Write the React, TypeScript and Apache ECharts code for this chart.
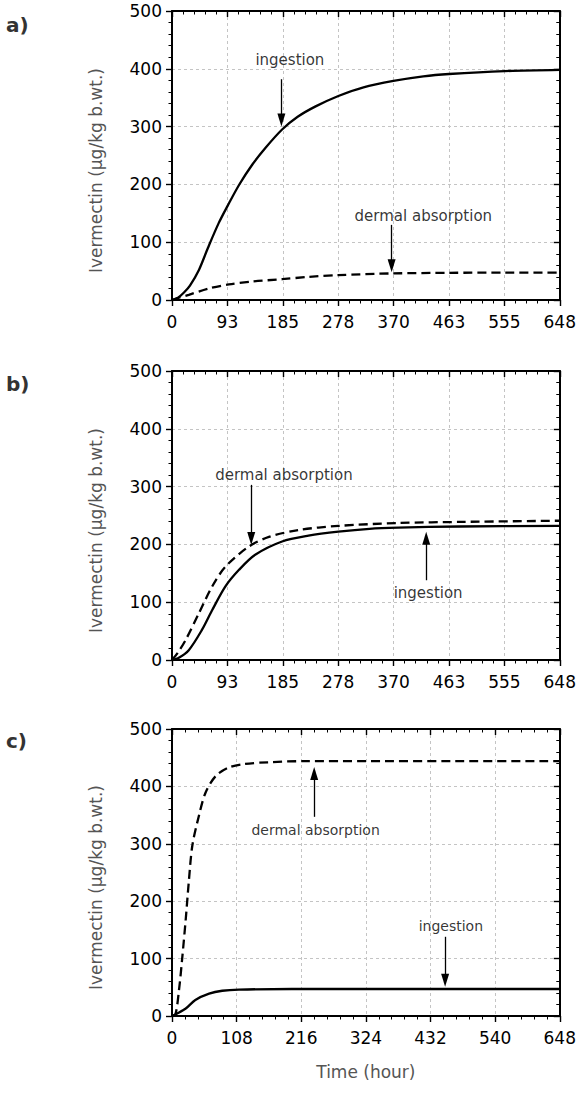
import React, { useEffect, useRef } from "react";
import * as echarts from "echarts";

// ---------- data ----------
// Panel a
const aIngT = [0, 10, 20, 30, 45, 60, 78, 95, 112, 134, 156, 184, 210, 240, 278, 320, 370, 420, 463, 556, 648];
const aIngV = [0, 4, 13, 25, 52, 90, 133, 167, 199, 234, 263, 295, 317, 335, 353, 368, 379, 387, 391, 396, 398];
const aDerT = [0, 10, 28, 62, 95, 134, 184, 228, 278, 367, 463, 556, 648];
const aDerV = [0, 3.5, 9, 20, 27, 32, 36, 40, 43, 46, 47, 47.5, 47.5];
// Panel b
const bIngT = [0, 10, 28, 50, 67, 89, 112, 139, 184, 228, 278, 330, 378, 480, 648];
const bIngV = [0, 3, 17, 52, 86, 127, 156, 182, 205, 215, 222, 227, 229, 231, 232];
const bDerT = [0, 10, 23, 45, 67, 89, 128, 162, 212, 278, 378, 489, 648];
const bDerV = [0, 13, 35, 81, 127, 161, 196, 213, 225, 232, 237, 239, 241];
// Panel c
const cIngT = [0, 8, 23, 39, 62, 84, 112, 200, 648];
const cIngV = [0, 4, 13, 28, 39, 44, 46, 47, 47];
const cDerT = [0, 6, 12, 17, 23, 28, 34, 45, 56, 73, 95, 120, 160, 220, 648];
const cDerV = [0, 4, 48, 100, 169, 233, 297, 349, 389, 418, 433, 439, 442, 444, 444];

// axes
const timeMax = 648;
const timeIntervals = [648 / 7, 648 / 7, 108];
const yMin = 0;
const yMax = 500;
const yInterval = 100;
const panelLabels = ["a)", "b)", "c)"];
const yName = "Ivermectin (µg/kg b.wt.)";
const xName = "Time (hour)";

// annotations: [time, value, text]
const aTexts: [number, number, string][] = [[197, 415, "ingestion"], [420, 145, "dermal absorption"]];
const bTexts: [number, number, string][] = [[187, 320, "dermal absorption"], [428, 116, "ingestion"]];
const cTexts: [number, number, string][] = [[240, 324, "dermal absorption"], [466, 156, "ingestion"]];
// arrows: [time, tail value, tip value]
const aArrows: [number, number, number][] = [[182.8, 382, 300], [367, 130, 48]];
const bArrows: [number, number, number][] = [[132.4, 303, 199], [424.8, 138, 222]];
const cArrows: [number, number, number][] = [[237.6, 347, 434], [456.4, 138, 51]];

const zip = (t: number[], v: number[]) => t.map((x, i) => [x, v[i]]);

export default function App() {
  const ref = useRef<HTMLDivElement>(null);
  useEffect(() => {
    document.body.style.margin = "0";
    if (!ref.current) return;
    const chart = echarts.init(ref.current, undefined, { renderer: "svg" });

    const grids = [
      { left: 172, width: 390, top: 11, height: 289 },
      { left: 172, width: 390, top: 371, height: 289 },
      { left: 172, width: 390, top: 729, height: 287 },
    ];
    const font = "DejaVu Sans";
    const xAxes: any[] = [];
    const yAxes: any[] = [];
    grids.forEach((g, i) => {
      const common = {
        gridIndex: i,
        type: "value",
        axisLine: { show: true, onZero: false, lineStyle: { color: "#000", width: 2 } },
        axisTick: { show: true, length: 6, lineStyle: { color: "#000", width: 1.4 } },
        minorTick: { show: true, splitNumber: 5, length: 3.5, lineStyle: { color: "#000", width: 1 } },
        minorSplitLine: { show: false },
      };
      xAxes.push({
        ...common,
        min: 0,
        max: timeMax,
        interval: timeIntervals[i],
        position: "bottom",
        axisLabel: { color: "#000", fontSize: 17, fontFamily: font, margin: 13, formatter: (v: number) => String(Math.round(v)) },
        splitLine: { show: true, lineStyle: { color: "#c4c4c4", type: [3, 3], width: 1 } },
        name: i === 2 ? xName : "",
        nameLocation: "middle",
        nameGap: 47,
        nameTextStyle: { color: "#555", fontSize: 17, fontFamily: font },
      });
      xAxes.push({
        ...common,
        min: 0,
        max: timeMax,
        interval: timeIntervals[i],
        position: "top",
        axisTick: { ...common.axisTick, inside: true },
        axisLabel: { show: false },
        splitLine: { show: false },
      });
      yAxes.push({
        ...common,
        min: yMin,
        max: yMax,
        interval: yInterval,
        position: "left",
        axisLabel: { color: "#000", fontSize: 17, fontFamily: font, margin: 10 },
        splitLine: { show: true, lineStyle: { color: "#c4c4c4", type: [3, 3], width: 1 } },
        name: yName,
        nameLocation: "middle",
        nameGap: 68,
        nameTextStyle: { color: "#555", fontSize: 17, fontFamily: font, padding: [0, 30, 0, 0] },
      });
      yAxes.push({
        ...common,
        min: yMin,
        max: yMax,
        interval: yInterval,
        position: "right",
        axisTick: { ...common.axisTick, inside: true },
        axisLabel: { show: false },
        splitLine: { show: false },
      });
    });

    const panels = [
      { ing: zip(aIngT, aIngV), der: zip(aDerT, aDerV), texts: aTexts, arrows: aArrows },
      { ing: zip(bIngT, bIngV), der: zip(bDerT, bDerV), texts: bTexts, arrows: bArrows },
      { ing: zip(cIngT, cIngV), der: zip(cDerT, cDerV), texts: cTexts, arrows: cArrows },
    ];
    const series: any[] = [];
    panels.forEach((p, i) => {
      const xi = i * 2;
      const yi = i * 2;
      const pxPerUnit = grids[i].height / (yMax - yMin);
      const half = 6.5 / pxPerUnit;
      series.push({
        type: "line",
        xAxisIndex: xi,
        yAxisIndex: yi,
        data: p.ing,
        showSymbol: false,
        smooth: 0.3,
        lineStyle: { color: "#000", width: 2.3 },
        markLine: {
          silent: true,
          symbol: ["none", "triangle"],
          symbolSize: [8, 13],
          label: { show: false },
          lineStyle: { color: "#000", width: 1.3, type: "solid" },
          data: p.arrows.map(([t, v0, v1]) => {
            const dir = v1 < v0 ? 1 : -1;
            return [
              { coord: [t, v0], symbol: "none" },
              { coord: [t, v1 + dir * half], symbol: "triangle", symbolSize: [8, 13] },
            ];
          }),
        },
      });
      series.push({
        type: "line",
        xAxisIndex: xi,
        yAxisIndex: yi,
        data: p.der,
        showSymbol: false,
        smooth: 0.3,
        lineStyle: { color: "#000", width: 2.3, type: [9, 5] },
      });
      series.push({
        type: "scatter",
        xAxisIndex: xi,
        yAxisIndex: yi,
        silent: true,
        symbolSize: 0.1,
        itemStyle: { color: "rgba(0,0,0,0)" },
        label: {
          show: true,
          position: "inside",
          formatter: "{b}",
          color: "#000",
          fontSize: i === 2 ? 14 : 15,
          fontFamily: font,
        },
        data: p.texts.map(([t, v, s]) => ({ name: s, value: [t, v] })),
      });
    });

    const labelY = [27, 386, 743];
    chart.setOption({
      animation: false,
      textStyle: { fontFamily: font },
      grid: grids,
      xAxis: xAxes,
      yAxis: yAxes,
      series,
      graphic: panelLabels.map((s, i) => ({
        type: "text",
        left: 6,
        top: labelY[i] - 12,
        style: { text: s, fill: "#333", font: `bold 20px "${font}"` },
      })),
    });
    return () => chart.dispose();
  }, []);
  return <div ref={ref} style={{ width: 579, height: 1099 }} />;
}
